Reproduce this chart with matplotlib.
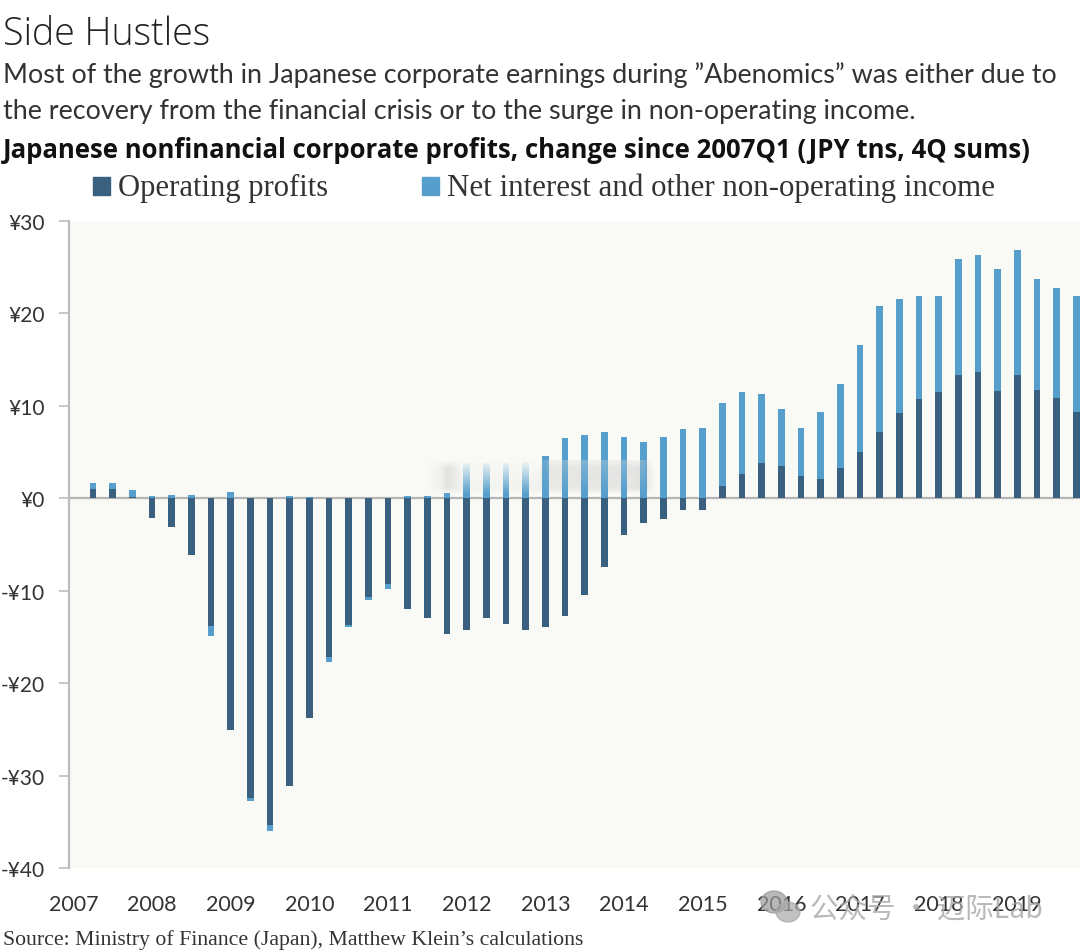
import matplotlib
matplotlib.use('Agg')
import matplotlib.pyplot as plt
import numpy as np
from matplotlib.patches import Rectangle, Ellipse

year_labels = ['2007', '2008', '2009', '2010', '2011', '2012', '2013', '2014', '2015', '2016', '2017', '2018', '2019']
y_ticks = [30, 20, 10, 0, -10, -20, -30, -40]
y_labels = ['¥30', '¥20', '¥10', '¥0', '-¥10', '-¥20', '-¥30', '-¥40']

# 2007Q1 .. 2019Q4
operating = [0, 1.0, 1.0, 0.1, -2.13, -3.1, -6.17, -13.8, -25.1, -32.4, -35.3, -31.1, -23.75,
             -17.15, -13.7, -10.65, -9.3, -12.0, -12.96, -14.65, -14.26, -12.96, -13.57, -14.2,
             -13.9, -12.74, -10.43, -7.4, -3.97, -2.63, -2.2, -1.26, -1.26, 1.34, 2.64, 3.8,
             3.5, 2.45, 2.06, 3.25, 5.0, 7.2, 9.24, 10.7, 11.5, 13.3, 13.65, 11.6, 13.35,
             11.7, 10.9, 9.35]
non_operating = [0, 0.7, 0.6, 0.8, 0.2, 0.4, 0.4, -1.15, 0.7, -0.3, -0.7, 0.3, 0.1,
                 -0.55, -0.2, -0.4, -0.5, 0.25, 0.25, 0.6, 3.8, 3.8, 3.8, 3.9,
                 4.62, 6.57, 6.8, 7.2, 6.64, 6.06, 6.6, 7.55, 7.65, 8.96, 8.91, 7.5,
                 6.14, 5.13, 7.29, 9.1, 11.6, 13.56, 12.36, 11.14, 10.4, 12.6, 12.65, 13.2, 13.55,
                 12.0, 11.8, 12.5]

DARK = '#39607f'
LIGHT = '#569fcd'
BG = '#f9f9f6'
W, H = 1080, 953

plt.rcParams['font.family'] = ['Open Sans', 'DejaVu Sans']
fig = plt.figure(figsize=(W / 100, H / 100), dpi=100, facecolor='white')
ax = fig.add_axes([68.5 / W, 1 - 869 / H, (W - 68.5) / W, (869 - 222) / H])
ax.set_facecolor(BG)

x = list(range(len(operating)))
# positive non-operating stacks on positive operating, negative on negative
bottoms = []
for op, non in zip(operating, non_operating):
    bottoms.append(op if op * non > 0 else 0)
ax.bar(x, operating, width=0.34, color=DARK, zorder=3)
ax.bar(x, non_operating, bottom=bottoms, width=0.34, color=LIGHT, zorder=3)
ax.axhline(0, color='#b5b5b5', lw=1.6, zorder=2)


def soft_box(col_x, col_alpha, rgb, top_fade, zorder):
    # blurred patch over a part of the plot, alpha from a column profile and a vertical ramp
    xs = np.linspace(18, 29.6, 240)
    ys = np.linspace(0, 1, 60)  # 0 = top of the patch
    alpha_x = np.interp(xs, col_x, col_alpha)
    alpha_y = np.clip(ys * 4, 0, 1) * np.clip((1 - ys) * 6, 0, 1) if not top_fade else 1 - ys
    rgba = np.ones((60, 240, 4))
    rgba[..., :3] = matplotlib.colors.to_rgb(rgb)
    rgba[..., 3] = np.outer(alpha_y, alpha_x)
    ax.imshow(rgba, extent=(18, 29.6, 0.5, 4.1), aspect='auto', zorder=zorder, interpolation='bilinear')


# grey smudge behind the bars, paler smear in front of them
soft_box([18, 18.7, 19, 19.4, 20, 23.4, 24, 28.5, 29, 29.3, 29.6],
         [0, 0.3, 0.8, 0.5, 0.2, 0.25, 0.5, 0.65, 0.85, 0.3, 0], '#dcdddb', False, 2.5)
soft_box([19.4, 19.7, 23.6, 23.9], [0, 1, 1, 0], BG, True, 4)
soft_box([23.8, 24.2, 29, 29.3], [0, 0.3, 0.3, 0], '#dfe0df', True, 4)

ax.set_xlim(-0.25, (W - 73.6) / 19.66)
ax.set_ylim(-40, 30)
for s in ['top', 'right', 'bottom']:
    ax.spines[s].set_visible(False)
ax.spines['left'].set_color('#bdbdbd')
ax.spines['left'].set_linewidth(1.6)
ax.set_yticks(y_ticks)
ax.set_yticklabels(y_labels, family='Lato', fontsize=15, color='#333333')
ax.tick_params(axis='y', length=7, width=1.2, color='#bdbdbd', pad=10)
ax.set_xticks(range(0, 52, 4))
ax.set_xticklabels(year_labels, family='Lato', fontsize=15.5, color='#333333')
ax.tick_params(axis='x', length=0, pad=19)

fig.text(3 / W, 1 - 35 / H, 'Side Hustles', fontsize=27, color='#222222', va='center', fontweight='light')
fig.text(3 / W, 1 - 75 / H, 'Most of the growth in Japanese corporate earnings during ”Abenomics” was either due to',
         family='Lato', fontsize=19.35, color='#333333', va='center')
fig.text(3 / W, 1 - 112 / H, 'the recovery from the financial crisis or to the surge in non-operating income.',
         family='Lato', fontsize=19.35, color='#333333', va='center')
fig.text(3 / W, 1 - 151 / H, 'Japanese nonfinancial corporate profits, change since 2007Q1 (JPY tns, 4Q sums)',
         fontsize=18.5, color='#111111', va='center', fontweight='bold')

# legend
fig.patches.append(Rectangle((93 / W, 1 - 196 / H), 17 / W, 18 / H, transform=fig.transFigure, color=DARK))
fig.patches.append(Rectangle((422 / W, 1 - 196 / H), 17 / W, 18 / H, transform=fig.transFigure, color=LIGHT))
fig.text(118 / W, 1 - 188 / H, 'Operating profits', family='Liberation Serif', fontsize=22.1, color='#333333', va='center')
fig.text(447 / W, 1 - 188 / H, 'Net interest and other non-operating income', family='Liberation Serif',
         fontsize=22.3, color='#333333', va='center')

fig.text(3 / W, 1 - 940 / H, 'Source: Ministry of Finance (Japan), Matthew Klein’s calculations',
         family='Liberation Serif', fontsize=15.7, color='#333333', va='center')

# watermark
fig.patches.append(Ellipse((774 / W, 1 - 903 / H), 26 / W, 22 / H, transform=fig.transFigure, color='#9a9a9a', alpha=0.7))
fig.patches.append(Ellipse((788 / W, 1 - 913 / H), 24 / W, 20 / H, transform=fig.transFigure, color='#a8a8a8', alpha=0.7))
fig.text(810 / W, 1 - 909 / H, '公众号 · 迈际Lab', family=['Noto Sans CJK SC', 'DejaVu Sans'], fontsize=20.5,
         color='#a8a8a8', alpha=0.8, va='center')

fig.savefig('out.png', dpi=100)
